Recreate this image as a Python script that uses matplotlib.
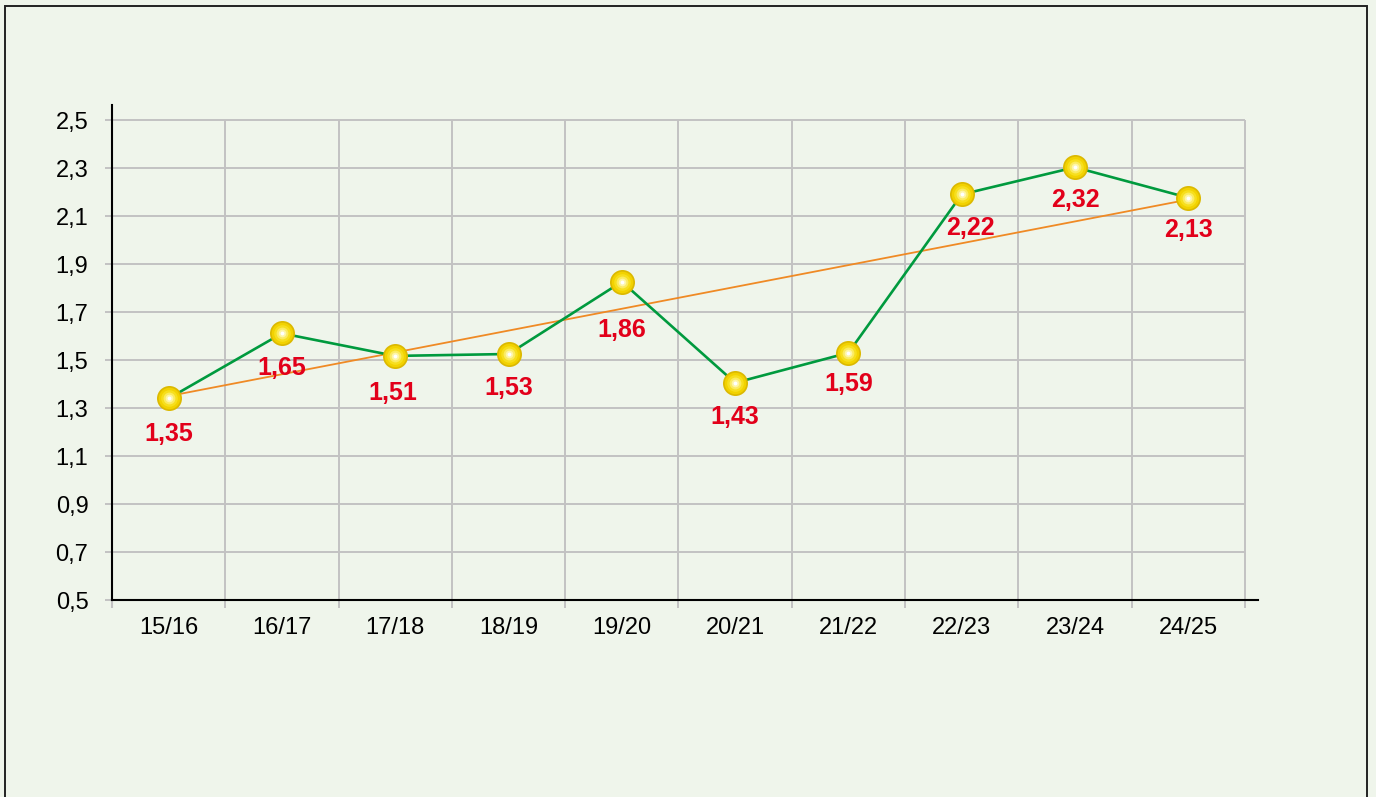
import numpy as np
import matplotlib
matplotlib.use("Agg")
import matplotlib.pyplot as plt
from matplotlib.patches import Rectangle

# * Data
seasons = ["15/16", "16/17", "17/18", "18/19", "19/20",
           "20/21", "21/22", "22/23", "23/24", "24/25"]
# printed values (labels) and where the points sit in the drawing
label_values = [1.35, 1.65, 1.51, 1.53, 1.86, 1.43, 1.59, 2.22, 2.32, 2.13]
point_values = [1.34, 1.611, 1.517, 1.525, 1.826, 1.405, 1.53, 2.19, 2.303, 2.176]
yticks = [0.5, 0.7, 0.9, 1.1, 1.3, 1.5, 1.7, 1.9, 2.1, 2.3, 2.5]
ytick_labels = ["0,5", "0,7", "0,9", "1,1", "1,3", "1,5", "1,7", "1,9", "2,1", "2,3", "2,5"]

# * Layout
# label nudges in pixels (x right, y down from the point), placed by hand in the original
label_dx = [0, 0, -2, 0, 0, 0, 0, 9, 0, 0]
label_dy = [24, 23, 26, 23, 37, 23, 20, 22, 21, 21]

# * Style
bg = "#eff5eb"
grid_c = "#c2c2c2"
green = "#009a3e"
orange = "#ef8a25"
red = "#e2001a"
plt.rcParams['font.family'] = ['Liberation Sans', 'DejaVu Sans']

W, H = 1376, 797
fig = plt.figure(figsize=(W / 100, H / 100), dpi=100, facecolor=bg)

# frame around the chart (bottom edge is cut off)
fig.patches.append(Rectangle((5 / W, -0.05), 1362 / W, 1.05 - 6 / H,
                             transform=fig.transFigure, fill=False,
                             edgecolor="#222222", linewidth=1.4))

ax = fig.add_axes([112 / W, 197 / H, 1146 / W, 495 / H])
ax.set_facecolor(bg)

x = np.arange(len(seasons))
bounds = np.arange(len(seasons) + 1) - 0.5

ax.set_xlim(-0.5, 9.615)
ax.set_ylim(0.5, 2.5625)

# grid
ax.hlines(yticks, -0.5, bounds[-1], color=grid_c, lw=1.4, zorder=1)
ax.vlines(bounds[1:], yticks[0], yticks[-1], color=grid_c, lw=1.4, zorder=1)

# trend line fitted to printed values
k, b = np.polyfit(x, label_values, 1)
ax.plot([x[0], x[-1]], [b, k * x[-1] + b], color=orange, lw=1.3, zorder=2)

# series
ax.plot(x, point_values, color=green, lw=1.9, zorder=3)
# glossy yellow balls: stacked discs from dark rim to bright centre
ball = [(18, "#dcb900"), (15.5, "#f2d200"), (12, "#f7df1e"),
        (8.5, "#fbeb62"), (5.5, "#fdf5a8"), (2.8, "#ffffff")]
for z, (ms, c) in enumerate(ball):
    ax.plot(x, point_values, 'o', ms=ms, mfc=c, mec="none", zorder=4 + z)

px = 0.72  # points per pixel at 100 dpi
for xi, yi, lab, dx, dy in zip(x, point_values, label_values, label_dx, label_dy):
    ax.annotate(f"{lab:.2f}".replace(".", ","), (xi, yi),
                xytext=(dx * px, -16 - (dy - 23) * px),
                textcoords="offset points", ha="center", va="top",
                color=red, fontsize=18, fontweight="bold", zorder=12)

# axes
for s in ("top", "right"):
    ax.spines[s].set_visible(False)
for s in ("left", "bottom"):
    ax.spines[s].set_color("black")
    ax.spines[s].set_linewidth(1.5)

ax.set_yticks(yticks)
ax.set_yticklabels(ytick_labels, fontsize=17)
ax.tick_params(axis="y", direction="out", length=5, width=1.4, color=grid_c, pad=12)

ax.set_xticks(x)
ax.set_xticklabels(seasons, fontsize=17)
ax.tick_params(axis="x", which="major", length=0, pad=12)
ax.set_xticks(bounds, minor=True)
ax.tick_params(axis="x", which="minor", direction="out", length=6, width=1.4, color=grid_c)
first = ax.xaxis.get_minor_ticks()[0]
first.tick1line.set_color("black")
first.tick1line.set_markeredgewidth(1.5)

fig.savefig("out.png", dpi=100, facecolor=bg)
